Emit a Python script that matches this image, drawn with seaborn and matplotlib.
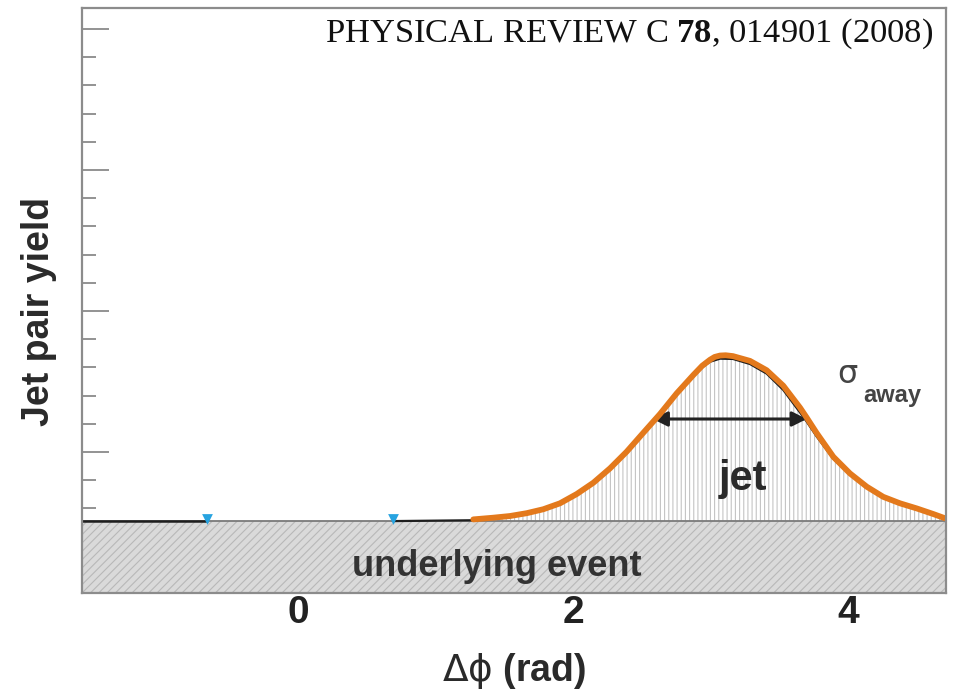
import numpy as np
import matplotlib
matplotlib.use("Agg")
import matplotlib.pyplot as plt
import seaborn as sns

# Away-side jet pair yield (fit) versus delta-phi, in rad / arbitrary yield units
dphi_fit = [1.275, 1.420, 1.542, 1.663, 1.784, 1.905, 2.027, 2.148, 2.269,
            2.390, 2.511, 2.633, 2.754, 2.875, 2.940, 2.996, 3.030, 3.069,
            3.110, 3.163, 3.287, 3.408, 3.529, 3.651, 3.699, 3.772, 3.893,
            4.014, 4.136, 4.256, 4.378, 4.499, 4.620, 4.705]
yield_fit = [2.61, 2.67, 2.73, 2.83, 2.97, 3.18, 3.51, 3.91, 4.42,
             5.01, 5.68, 6.35, 7.08, 7.73, 8.06, 8.27, 8.37, 8.42,
             8.43, 8.40, 8.23, 7.90, 7.35, 6.57, 6.22, 5.67, 4.83,
             4.24, 3.77, 3.41, 3.18, 3.00, 2.80, 2.65]

# Underlying black reference curve (near-side gap removed)
dphi_ref = [0.69, 1.275, 1.420, 1.542, 1.663, 1.784, 1.905, 2.027, 2.148,
            2.269, 2.390, 2.511, 2.633, 2.754, 2.875, 2.940, 2.996, 3.069,
            3.163, 3.287, 3.408, 3.529, 3.651, 3.699, 3.772, 3.893, 4.014,
            4.136, 4.256, 4.378, 4.499, 4.620, 4.705]
yield_ref = [2.55, 2.58, 2.65, 2.71, 2.81, 2.95, 3.16, 3.49, 3.89,
             4.40, 4.99, 5.66, 6.33, 7.05, 7.68, 8.00, 8.20, 8.31,
             8.30, 8.12, 7.78, 7.20, 6.40, 6.08, 5.55, 4.76, 4.21,
             3.75, 3.40, 3.17, 2.99, 2.79, 2.64]
dphi_ref_left = [-np.pi / 2, -0.66]

pedestal = 2.55              # underlying-event level
near_marks = [-0.66, 0.69]   # edges of the removed near-side region
sigma_edges = [2.58, 3.70]   # +/- sigma of the away-side peak
sigma_level = 6.17

x_ticks = [0, 2, 4]
x_tick_labels = ["0", "2", "4"]
y_major = [5, 10, 15, 20]
y_minor = [3, 4, 6, 7, 8, 9, 11, 12, 13, 14, 16, 17, 18, 19]

sns.set_theme(style="white")
plt.rcParams["font.family"] = ["Liberation Sans", "DejaVu Sans"]
plt.rcParams["mathtext.fontset"] = "custom"
plt.rcParams["mathtext.rm"] = "DejaVu Sans"
plt.rcParams["mathtext.bf"] = "Liberation Serif:bold"
plt.rcParams["hatch.linewidth"] = 0.8

fig = plt.figure(figsize=(9.61, 6.90), dpi=100)
ax = fig.add_axes([82 / 961, 97 / 690, 864 / 961, 585 / 690])
xmin, xmax = -np.pi / 2, 3 * np.pi / 2

# underlying event band
ax.fill_between([xmin, xmax], 0, pedestal, facecolor="#dadada",
                edgecolor="#b8b8b8", hatch="////", linewidth=0, zorder=1)
ax.axhline(pedestal, color="#7a7a7a", lw=1.3, zorder=2)

# jet yield above the pedestal
ax.fill_between(dphi_fit, pedestal, yield_fit, facecolor="white",
                edgecolor="#c4c4c4", hatch="||||", linewidth=0, zorder=1)

# black reference curve
sns.lineplot(x=dphi_ref_left, y=[pedestal, pedestal], color="#1e1e1e",
             lw=1.8, ax=ax, zorder=3)
sns.lineplot(x=dphi_ref, y=yield_ref, color="#1e1e1e", lw=1.6, ax=ax,
             sort=False, estimator=None, zorder=3)
ax.plot(near_marks, [pedestal + 0.07] * 2, color="white", ls=":", lw=1.2,
        zorder=3)
ax.scatter(near_marks, [pedestal + 0.06] * 2, marker="v", s=60,
           color="#27a3e0", linewidths=0, zorder=4)

# width arrow
ax.annotate("", xy=(sigma_edges[0], sigma_level),
            xytext=(sigma_edges[1], sigma_level),
            arrowprops=dict(arrowstyle="<|-|>", color="#222222", lw=2.2,
                            mutation_scale=22, shrinkA=0, shrinkB=0),
            zorder=3)

# away-side fit
sns.lineplot(x=dphi_fit, y=yield_fit, color="#e3791c", lw=4.2, ax=ax,
             sort=False, estimator=None, zorder=5,
             solid_joinstyle="round", solid_capstyle="round")

# labels inside the plot
ax.text(3.236, 3.65, "jet", fontsize=30, fontweight="bold", color="#2a2a2a",
        ha="center", va="baseline", zorder=6)
ax.text(1.443, 0.60, "underlying event", fontsize=26, fontweight="bold",
        color="#333333", ha="center", va="baseline", zorder=6)
ax.text(3.92, 7.45, "σ", fontsize=23, color="#444444", ha="left",
        va="baseline", family=["DejaVu Sans"], zorder=6)
ax.text(4.108, 6.77, "away", fontsize=17, fontweight="bold",
        color="#444444", ha="left", va="baseline", zorder=6)

ax.text(0.985, 0.942, r"PHYSICAL REVIEW C $\mathbf{78}$, 014901 (2008)",
        transform=ax.transAxes, fontsize=24.8, family=["Liberation Serif"],
        color="#111111", ha="right", va="baseline")

ax.set_xlim(xmin, xmax)
ax.set_ylim(0, 585 / 28.2)
ax.set_xticks(x_ticks)
ax.set_xticklabels(x_tick_labels, fontsize=28, fontweight="bold",
                   color="#222222")
ax.set_yticks(y_major)
ax.set_yticks(y_minor, minor=True)
ax.tick_params(axis="x", length=0, pad=1.5)
ax.tick_params(axis="y", which="major", direction="in", length=19.5,
               width=1.3, color="#8a8a8a", labelleft=False, left=True)
ax.tick_params(axis="y", which="minor", direction="in", length=10,
               width=1.3, color="#8a8a8a", left=True)

ax.set_xlabel(r"$\mathrm{\Delta\phi}$ (rad)", fontsize=27, fontweight="bold",
              color="#2a2a2a", va="center")
ax.xaxis.set_label_coords(0.5, -0.133)
ax.set_ylabel("Jet pair yield", fontsize=27, fontweight="bold",
              color="#2a2a2a", va="center")
ax.yaxis.set_label_coords(-0.05, 0.482)

for s in ax.spines.values():
    s.set_color("#8c8c8c")
    s.set_linewidth(1.6)
    s.set_zorder(7)

fig.savefig("out.png", dpi=100)
